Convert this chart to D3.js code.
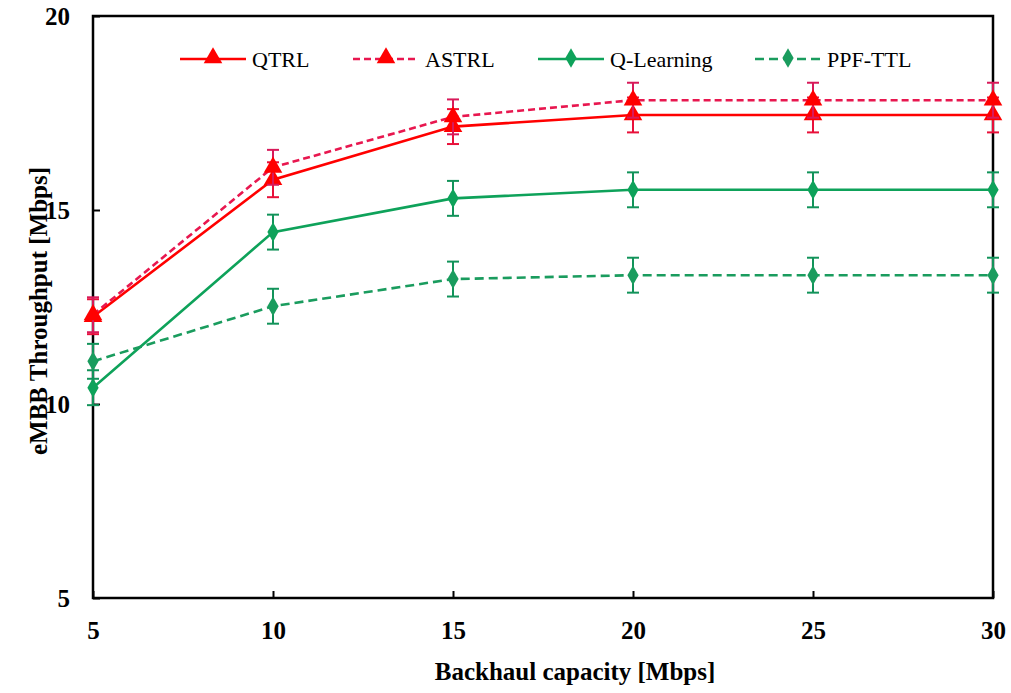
<!DOCTYPE html>
<html>
<head>
<meta charset="utf-8">
<script src="https://cdn.jsdelivr.net/npm/d3@7"></script>
<style>
  body { margin: 0; background: #fff; }
  svg { display: block; }
</style>
</head>
<body>
<svg></svg>
<script>
// data
const capacity = [5, 10, 15, 20, 25, 30];
const qtrl = [12.25, 15.78, 17.15, 17.45, 17.45, 17.45];
const astrl = [12.3, 16.1, 17.4, 17.83, 17.83, 17.83];
const qLearning = [10.42, 14.43, 15.3, 15.52, 15.52, 15.52];
const ppfTtl = [11.1, 12.52, 13.22, 13.32, 13.32, 13.32];
const errQtrl = [0.45, 0.45, 0.45, 0.45, 0.45, 0.45];
const errAstrl = [0.45, 0.45, 0.45, 0.45, 0.45, 0.45];
const errQLearning = [0.45, 0.45, 0.45, 0.45, 0.45, 0.45];
const errPpfTtl = [0.45, 0.45, 0.45, 0.45, 0.45, 0.45];
const xTicks = [5, 10, 15, 20, 25, 30];
const yTicks = [5, 10, 15, 20];

// configuration of svg/plot area
let config = { svg: {}, margin: {}, plot: {} };
config.svg.width = 1011;
config.svg.height = 693;
config.margin.top = 16;
config.margin.right = 18;
config.margin.bottom = 95;
config.margin.left = 93;
config.plot.width = config.svg.width - config.margin.left - config.margin.right;
config.plot.height = config.svg.height - config.margin.top - config.margin.bottom;

let svg = d3.select('svg')
  .attr('width', config.svg.width)
  .attr('height', config.svg.height);

let plot = svg.append('g')
  .attr('transform', `translate(${config.margin.left},${config.margin.top})`);

let x = d3.scaleLinear().domain([5, 30]).range([0, config.plot.width]);
let y = d3.scaleLinear().domain([5, 20]).range([config.plot.height, 0]);

const font = '"Liberation Serif", "Times New Roman", serif';

// axes (ticks point inward)
let xAxis = plot.append('g')
  .attr('transform', `translate(0,${config.plot.height})`)
  .call(d3.axisBottom(x).tickValues(xTicks).tickSize(-7).tickPadding(32).tickFormat(d3.format('d')));
let yAxis = plot.append('g')
  .call(d3.axisLeft(y).tickValues(yTicks).tickSize(-7).tickPadding(23).tickFormat(d3.format('d')));

[xAxis, yAxis].forEach(a => {
  a.select('.domain').remove();
  a.selectAll('line').attr('stroke', '#000').attr('stroke-width', 2);
  a.selectAll('text')
    .attr('font-family', font)
    .attr('font-weight', 'bold')
    .attr('font-size', 25)
    .attr('fill', '#000');
});
xAxis.selectAll('text').attr('dy', '0.35em');

// frame
plot.append('rect')
  .attr('x', 0).attr('y', 0)
  .attr('width', config.plot.width)
  .attr('height', config.plot.height)
  .attr('fill', 'none')
  .attr('stroke', '#000')
  .attr('stroke-width', 2.5);

// series
const series = [
  { name: 'QTRL', values: qtrl, err: errQtrl, color: '#ff0000', errColor: '#e8103a', dash: null, marker: d3.symbolTriangle, msize: 150 },
  { name: 'ASTRL', values: astrl, err: errAstrl, color: '#e8174f', markerColor: '#ff0000', errColor: '#d81a5a', dash: '7,4', marker: d3.symbolTriangle, msize: 150 },
  { name: 'Q-Learning', values: qLearning, err: errQLearning, color: '#0ea25a', errColor: '#12935a', dash: null, marker: d3.symbolDiamond, msize: 110 },
  { name: 'PPF-TTL', values: ppfTtl, err: errPpfTtl, color: '#1a9c5e', errColor: '#12935a', dash: '9,5', marker: d3.symbolDiamond, msize: 110 }
];

let line = d3.line()
  .x((d, i) => x(capacity[i]))
  .y(d => y(d));

series.forEach(s => {
  let g = plot.append('g');
  // error bars
  capacity.forEach((c, i) => {
    let cx = x(c), y0 = y(s.values[i] - s.err[i]), y1 = y(s.values[i] + s.err[i]);
    g.append('line').attr('x1', cx).attr('x2', cx).attr('y1', y0).attr('y2', y1)
      .attr('stroke', s.errColor).attr('stroke-width', 2);
    [y0, y1].forEach(yy => {
      g.append('line').attr('x1', cx - 6).attr('x2', cx + 6).attr('y1', yy).attr('y2', yy)
        .attr('stroke', s.errColor).attr('stroke-width', 2);
    });
  });
  g.append('path')
    .datum(s.values)
    .attr('d', line)
    .attr('fill', 'none')
    .attr('stroke', s.color)
    .attr('stroke-width', 2.6)
    .attr('stroke-dasharray', s.dash);
  g.selectAll('.mk')
    .data(s.values)
    .enter().append('path')
    .attr('transform', (d, i) => `translate(${x(capacity[i])},${y(d)})`)
    .attr('d', d3.symbol().type(s.marker).size(s.msize))
    .attr('fill', s.markerColor || s.color);
});

// legend
const legendX = [180, 353, 538, 755];
let legend = svg.append('g').attr('transform', 'translate(0,59)');
series.forEach((s, i) => {
  let lg = legend.append('g').attr('transform', `translate(${legendX[i]},0)`);
  lg.append('line').attr('x1', 0).attr('x2', 66).attr('y1', 0).attr('y2', 0)
    .attr('stroke', s.color).attr('stroke-width', 2.6)
    .attr('stroke-dasharray', s.dash);
  lg.append('path')
    .attr('transform', 'translate(33,-1)')
    .attr('d', d3.symbol().type(s.marker).size(s.msize))
    .attr('fill', s.markerColor || s.color);
  lg.append('text')
    .attr('x', 72)
    .attr('dy', '0.35em')
    .attr('font-family', font)
    .attr('font-size', 22)
    .attr('fill', '#000')
    .text(s.name);
});

// axis titles
svg.append('text')
  .attr('x', 575)
  .attr('y', 680)
  .attr('text-anchor', 'middle')
  .attr('font-family', font)
  .attr('font-weight', 'bold')
  .attr('font-size', 25)
  .text('Backhaul capacity [Mbps]');

svg.append('text')
  .attr('transform', 'translate(47,311) rotate(-90)')
  .attr('text-anchor', 'middle')
  .attr('font-family', font)
  .attr('font-weight', 'bold')
  .attr('font-size', 25)
  .text('eMBB Throughput [Mbps]');
</script>
</body>
</html>
